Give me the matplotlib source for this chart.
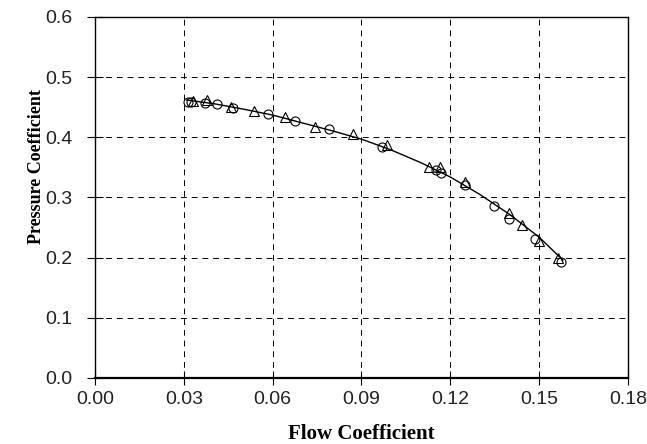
import matplotlib
matplotlib.use("Agg")
import matplotlib.pyplot as plt

# Data
circle_x = [0.0314, 0.0325, 0.0370, 0.0411, 0.0467, 0.0585, 0.0676, 0.0791, 0.0970,
            0.1150, 0.1169, 0.1249, 0.1348, 0.1398, 0.1486, 0.1573]
circle_y = [0.459, 0.458, 0.457, 0.455, 0.448, 0.439, 0.427, 0.414, 0.384,
            0.345, 0.340, 0.321, 0.286, 0.264, 0.231, 0.192]
tri_x = [0.0330, 0.0377, 0.0459, 0.0537, 0.0642, 0.0743, 0.0870, 0.0985,
         0.1128, 0.1166, 0.1249, 0.1398, 0.1443, 0.1500, 0.1565]
tri_y = [0.460, 0.462, 0.451, 0.443, 0.434, 0.418, 0.406, 0.387,
         0.350, 0.351, 0.325, 0.274, 0.254, 0.227, 0.200]
curve_x = [0.031, 0.040, 0.050, 0.060, 0.070, 0.080, 0.090, 0.100, 0.110,
           0.120, 0.130, 0.140, 0.150, 0.158]
curve_y = [0.462, 0.456, 0.447, 0.437, 0.424, 0.411, 0.397, 0.379, 0.358,
           0.334, 0.305, 0.272, 0.234, 0.196]
x_ticks = [0.00, 0.03, 0.06, 0.09, 0.12, 0.15, 0.18]
x_tick_labels = ["0.00", "0.03", "0.06", "0.09", "0.12", "0.15", "0.18"]
y_ticks = [0.0, 0.1, 0.2, 0.3, 0.4, 0.5, 0.6]
y_tick_labels = ["0.0", "0.1", "0.2", "0.3", "0.4", "0.5", "0.6"]

fig = plt.figure(figsize=(6.47, 4.44), dpi=100)
ax = fig.add_axes([95/647, 1-378/444, 533/647, 361/444])

ax.plot(curve_x, curve_y, color="black", lw=1.0, zorder=3)
ax.plot(circle_x, circle_y, linestyle="none", marker="o", markersize=6.5,
        markerfacecolor="none", markeredgecolor="black", markeredgewidth=0.8, zorder=4)
ax.plot(tri_x, tri_y, linestyle="none", marker="^", markersize=7,
        markerfacecolor="none", markeredgecolor="black", markeredgewidth=0.8, zorder=4)

ax.set_xlim(0, 0.18)
ax.set_ylim(0, 0.6)
ax.set_xticks(x_ticks)
ax.set_xticklabels(x_tick_labels, family="Liberation Sans", fontsize=14, color="#222222")
ax.set_yticks(y_ticks)
ax.set_yticklabels(y_tick_labels, family="Liberation Sans", fontsize=14, color="#222222")
ax.tick_params(axis="x", direction="inout", length=10, width=0.8, color="black", pad=4)
ax.tick_params(axis="y", direction="inout", length=12, width=0.8, color="black", pad=10)
ax.grid(True, color="black", linestyle=(0, (6, 5)), linewidth=0.7)
for s in ax.spines.values():
    s.set_linewidth(1.0)
ax.spines["bottom"].set_linewidth(1.6)

ax.set_xlabel("Flow Coefficient", family="Liberation Serif", fontweight="bold",
              fontsize=15)
ax.xaxis.set_label_coords(0.5, -0.128)
ax.set_ylabel("Pressure Coefficient", family="Liberation Serif", fontweight="bold",
              fontsize=13)
ax.yaxis.set_label_coords(-0.093, 0.585)

fig.savefig("out.png", dpi=100)
